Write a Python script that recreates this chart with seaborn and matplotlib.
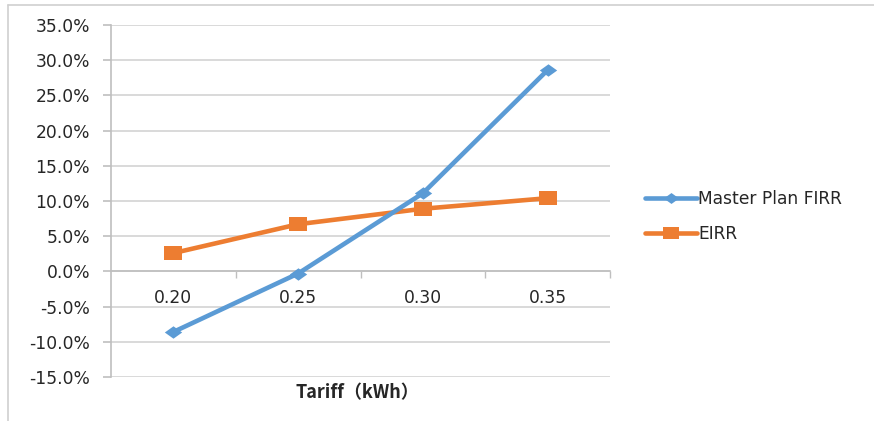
import matplotlib
matplotlib.use("Agg")
import matplotlib.pyplot as plt
from matplotlib.lines import Line2D
from matplotlib.path import Path
from matplotlib.ticker import FixedLocator, FuncFormatter
import seaborn as sns
import pandas as pd

# Tariff scenarios and resulting returns (%)
tariffs = ["0.20", "0.25", "0.30", "0.35"]
firr = [-8.6, -0.3, 11.1, 28.6]
eirr = [2.6, 6.7, 8.9, 10.4]
y_ticks = [-15, -10, -5, 0, 5, 10, 15, 20, 25, 30, 35]

sns.set_theme(style="white")
plt.rcParams["font.family"] = ["DejaVu Sans"]

blue = "#5B9BD5"
orange = "#ED7D31"
grid_c = "#D9D9D9"
axis_c = "#BFBFBF"
text_c = "#262626"
fs = 12.3

# slightly wide diamond and square markers
diamond = Path([(-1.4, 0), (0, 1), (1.4, 0), (0, -1), (-1.4, 0)],
               [Path.MOVETO, Path.LINETO, Path.LINETO, Path.LINETO, Path.CLOSEPOLY])
square = Path([(-1.3, -1), (1.3, -1), (1.3, 1), (-1.3, 1), (-1.3, -1)],
              [Path.MOVETO, Path.LINETO, Path.LINETO, Path.LINETO, Path.CLOSEPOLY])

df = pd.DataFrame({
    "pos": list(range(len(tariffs))) * 2,
    "value": firr + eirr,
    "series": ["Master Plan FIRR"] * len(tariffs) + ["EIRR"] * len(tariffs),
})

fig = plt.figure(figsize=(8.74, 4.21), dpi=100)
ax = fig.add_axes([111 / 874, 1 - 377 / 421, (610 - 111) / 874, (377 - 25) / 421])

sns.lineplot(data=df[df.series == "Master Plan FIRR"], x="pos", y="value",
             color=blue, lw=3.3, marker=diamond, markersize=12.5,
             markeredgewidth=0, ax=ax, zorder=4)
sns.lineplot(data=df[df.series == "EIRR"], x="pos", y="value",
             color=orange, lw=3.3, marker=square, markersize=12.5,
             markeredgewidth=0, ax=ax, zorder=3)

ax.set_xlim(-0.5, len(tariffs) - 0.5)
ax.set_ylim(-15, 35)

# horizontal gridlines
ax.yaxis.set_major_locator(FixedLocator(y_ticks))
ax.yaxis.set_major_formatter(FuncFormatter(lambda v, p: f"{v:.1f}%"))
for v in y_ticks:
    ax.axhline(v, color=grid_c, lw=1.4, zorder=1)

# category axis crossing at zero
for s in ["top", "right"]:
    ax.spines[s].set_visible(False)
ax.spines["bottom"].set_position(("data", 0))
ax.spines["bottom"].set_color(axis_c)
ax.spines["bottom"].set_linewidth(1.2)
ax.spines["left"].set_color(axis_c)
ax.spines["left"].set_linewidth(1.2)

ax.set_xticks(range(len(tariffs)))
ax.set_xticklabels(tariffs)
ax.set_xticks([0.5, 1.5, 2.5, 3.5], minor=True)
ax.tick_params(axis="x", which="major", length=0, pad=13, labelsize=fs,
               labelcolor=text_c)
ax.tick_params(axis="x", which="minor", length=5, width=1, color=axis_c,
               direction="out", bottom=True)
ax.tick_params(axis="y", which="major", length=6, width=1.2, color=axis_c,
               direction="out", left=True, pad=9, labelsize=fs,
               labelcolor=text_c)

ax.set_xlabel("")
ax.set_ylabel("")
fig.text(357 / 874, 1 - 393 / 421, "Tariff（kWh）", ha="center", va="center",
         fontsize=13, fontweight="bold", color=text_c,
         family=["Noto Sans CJK SC", "DejaVu Sans"])

handles = [
    Line2D([], [], color=blue, lw=3.3, marker=diamond, markersize=11,
           markeredgewidth=0),
    Line2D([], [], color=orange, lw=3.3, marker=square, markersize=11,
           markeredgewidth=0),
]
fig.legend(handles, ["Master Plan FIRR", "EIRR"], loc="upper left",
           bbox_to_anchor=(630 / 874, 1 - 175 / 421), frameon=False,
           fontsize=fs, handlelength=3.0, handletextpad=0.1,
           labelspacing=0.95, labelcolor=text_c)

# chart border
fig.add_artist(Line2D([8 / 874, 8 / 874], [0, 1 - 5 / 421],
                      transform=fig.transFigure, color="#D0D0D0", lw=1.2))
fig.add_artist(Line2D([8 / 874, 1], [1 - 5 / 421, 1 - 5 / 421],
                      transform=fig.transFigure, color="#D0D0D0", lw=1.2))

fig.savefig("out.png", dpi=100, facecolor="white")
